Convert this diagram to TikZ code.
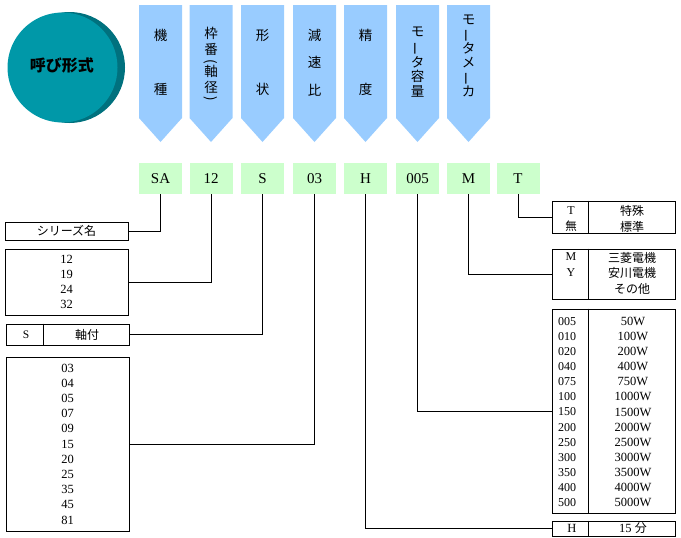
\documentclass[tikz,border=0pt]{standalone}
\usepackage{fontspec}
\setmainfont{Liberation Serif}
\newfontfamily\jp{Noto Sans CJK JP}
\usetikzlibrary{positioning}
\definecolor{bannerblue}{HTML}{99CCFF}
\definecolor{codegreen}{HTML}{CCFFCC}
\definecolor{disc}{HTML}{0098A8}
\definecolor{discedge}{HTML}{00717E}
\newcommand{\vbar}{\rotatebox[origin=c]{90}{ー}}
\newcommand{\vparen}[1]{\rotatebox[origin=c]{-90}{#1}}

\begin{document}
\begin{tikzpicture}[x=1pt, y=-1pt,
    code/.style={fill=codegreen, minimum width=43pt, minimum height=31pt, inner sep=0pt,
      font=\fontsize{15}{15}\selectfont},
    tbl/.style={draw, line width=0.9pt, inner sep=0pt},
    cell/.style={inner sep=0pt, align=center, font=\fontsize{12.5}{15.2}\selectfont},
    jcell/.style={cell, font=\jp\fontsize{12}{15.5}\selectfont},
    vtext/.style={inner sep=0pt, align=center, font=\jp\fontsize{13.5}{14.5}\selectfont},
    link/.style={line width=0.8pt}]
  \useasboundingbox (0,0) rectangle (681,538);

  % disc
  \fill[discedge] (69.5,67.5) circle (55.5);
  \fill[disc] (62.5,67.5) circle (55);
  \node[inner sep=0pt, font=\jp\bfseries\fontsize{16}{16}\selectfont] (title) at (62,65) {呼び形式};

  % banners
  \foreach \x in {160.5,211,262.5,314.5,365.5,417.5,468.5}
    \fill[bannerblue] ({\x-21.5},5) -- ({\x+21.5},5) -- ({\x+21.5},118)
      -- (\x,142) -- ({\x-21.5},118) -- cycle;
  \node[vtext] (kishu) at (160.5,62.5) {機\\[40pt]種};
  \node[vtext, font=\jp\fontsize{13.5}{16}\selectfont] (waku) at (211,65)
    {枠\\番\\[-5pt]\vparen{(}\\[-5pt]軸\\径\\[-6pt]\vparen{)}};
  \node[vtext] (keijo) at (262.5,62.5) {形\\[40pt]状};
  \node[vtext] (gensoku) at (314.5,62.5) {減\\[13pt]速\\[13pt]比};
  \node[vtext] (seido) at (365.5,62.5) {精\\[40pt]度};
  \node[vtext] (yoryo) at (417.5,62) {モ\\\vbar\\タ\\容\\量};
  \node[vtext, font=\jp\fontsize{13.5}{13.6}\selectfont] (maker) at (468.5,56) {モ\\\vbar\\タ\\メ\\\vbar\\カ};

  % code boxes
  \node[code] (cSA) at (160.5,178.5) {SA};
  \node[code] (c12) at (211,178.5) {12};
  \node[code] (cS) at (262.5,178.5) {S};
  \node[code] (c03) at (314.5,178.5) {03};
  \node[code] (cH) at (365.5,178.5) {H};
  \node[code] (c005) at (417.5,178.5) {005};
  \node[code] (cM) at (468.5,178.5) {M};
  \node[code] (cT) at (518,178.5) {T};

  % left tables
  \node[tbl, minimum width=123pt, minimum height=18pt] (series) at (66.5,231) {};
  \node[jcell] at (series) {シリーズ名};

  \node[tbl, minimum width=123pt, minimum height=66pt] (frame) at (66.5,282) {};
  \node[cell] at (frame) {12\\19\\24\\32};

  \node[tbl, minimum width=123pt, minimum height=21pt] (shape) at (67.5,334.5) {};
  \draw[line width=0.9pt] ([xshift=38pt]shape.north west) -- ([xshift=38pt]shape.south west);
  \node[cell, font=\fontsize{11.5}{11.5}\selectfont] at (26,334.5) {S};
  \node[jcell] at (87,334.5) {軸付};

  \node[tbl, minimum width=123pt, minimum height=174pt] (ratio) at (67.5,444) {};
  \node[cell] at (ratio) {03\\04\\05\\07\\09\\15\\20\\25\\35\\45\\81};

  % right tables
  \node[tbl, minimum width=123pt, minimum height=32pt] (type) at (613.5,217) {};
  \draw[line width=0.9pt] ([xshift=37pt]type.north west) -- ([xshift=37pt]type.south west);
  \node[cell, font=\fontsize{12}{16}\selectfont] at (571,219) {T\\{\jp\fontsize{11.5}{16}\selectfont 無}};
  \node[jcell, font=\jp\fontsize{12}{16}\selectfont] at (632,219) {特殊\\標準};

  \node[tbl, minimum width=123pt, minimum height=50pt] (motor) at (613.5,274) {};
  \draw[line width=0.9pt] ([xshift=37pt]motor.north west) -- ([xshift=37pt]motor.south west);
  \node[cell, anchor=north, font=\fontsize{12}{16}\selectfont] at (571,252) {M\\Y};
  \node[jcell, anchor=north] at (632,252) {三菱電機\\安川電機\\その他};

  \node[tbl, minimum width=123pt, minimum height=204pt] (power) at (613.5,411) {};
  \draw[line width=0.9pt] ([xshift=37pt]power.north west) -- ([xshift=37pt]power.south west);
  \node[cell, anchor=west, align=left, font=\fontsize{12}{15.1}\selectfont] at (558,412)
    {005\\010\\020\\040\\075\\100\\150\\200\\250\\300\\350\\400\\500};
  \node[cell, font=\fontsize{12.5}{15.1}\selectfont] at (633,412)
    {50W\\100W\\200W\\400W\\750W\\1000W\\1500W\\2000W\\2500W\\3000W\\3500W\\4000W\\5000W};

  \node[tbl, minimum width=123pt, minimum height=15pt] (prec) at (613.5,528.5) {};
  \draw[line width=0.9pt] ([xshift=37pt]prec.north west) -- ([xshift=37pt]prec.south west);
  \node[cell] at (572,528.5) {H};
  \node[cell] at (633,528.5) {15 {\jp\fontsize{12}{12}\selectfont 分}};

  % connectors
  \draw[link] (cSA.south) |- (series.east);
  \draw[link] (c12.south) |- (frame.east);
  \draw[link] (cS.south) |- (shape.east);
  \draw[link] (c03.south) |- (ratio.east);
  \draw[link] (cH.south) |- (prec.west);
  \draw[link] (c005.south) |- (power.west);
  \draw[link] (cM.south) |- (motor.west);
  \draw[link] (cT.south) |- (type.west);
\end{tikzpicture}
\end{document}
